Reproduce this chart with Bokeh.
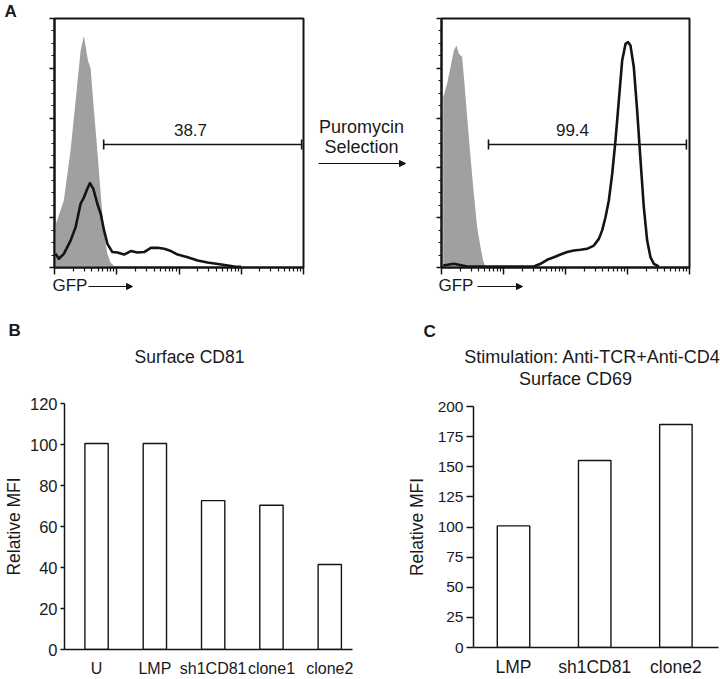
import math
from bokeh.plotting import figure
from bokeh.layouts import row, column
from bokeh.models import Range1d, FixedTicker, Label, Arrow, NormalHead, CustomJSTickFormatter, Spacer
from bokeh.embed import file_html
from bokeh.resources import INLINE

FONT = "Liberation Sans"
TXT = "#1a1a1a"
INK = "#141414"
GREY = "#a0a0a0"

# ---------------- Panel A data (log10 GFP intensity, % of max) ----------------
ctrl_before_log = [0.005, 0.15, 0.258, 0.339, 0.419, 0.473, 0.538, 0.58, 0.634, 0.688, 0.742, 0.796, 0.85, 0.90, 0.98]
ctrl_before_pct = [16.2, 26.9, 47.0, 67.0, 87.0, 93.0, 83.0, 80.0, 63.0, 47.0, 29.6, 13.5, 5.5, 2.0, 0.0]

gfp_before_log = [0.016, 0.07, 0.15, 0.258, 0.339, 0.419, 0.473, 0.527, 0.57, 0.624, 0.688, 0.742, 0.796, 0.85,
                  0.93, 1.01, 1.118, 1.226, 1.333, 1.44, 1.548, 1.656, 1.763, 1.871, 1.978, 2.14, 2.30, 2.46,
                  2.68, 2.89, 3.0]
gfp_before_pct = [5.5, 3.5, 5.5, 10.8, 16.2, 25.6, 28.2, 31.6, 33.9, 31.6, 25.6, 21.6, 14.9, 9.5,
                  6.2, 6.0, 5.2, 6.6, 6.0, 6.2, 7.9, 7.9, 7.5, 6.6, 5.2, 4.1, 2.8, 2.0,
                  1.2, 0.4, 0.3]

ctrl_after_log = [0.027, 0.091, 0.145, 0.199, 0.242, 0.28, 0.333, 0.371, 0.414, 0.468, 0.522, 0.575, 0.629, 0.672, 0.71]
ctrl_after_pct = [68.4, 73.8, 80.4, 87.1, 89.2, 85.8, 84.5, 73.8, 60.4, 44.3, 29.6, 16.2, 8.2, 2.8, 0.0]

gfp_after_log = [0.027, 0.199, 0.414, 0.95, 1.489, 1.597, 1.704, 1.812, 1.919, 2.027, 2.134, 2.242, 2.349,
                 2.457, 2.538, 2.591, 2.645, 2.699, 2.753, 2.806, 2.86, 2.914, 2.968, 3.011, 3.048, 3.102,
                 3.156, 3.21, 3.263, 3.317, 3.371, 3.425, 3.505]
gfp_after_pct = [0.8, 1.5, 0.4, 0.4, 0.4, 1.5, 3.1, 4.1, 5.2, 6.2, 6.8, 7.1, 7.5,
                 8.8, 11.5, 14.9, 20.2, 26.9, 37.6, 51.0, 67.0, 83.1, 89.8, 90.5, 89.2, 80.4,
                 63.0, 43.0, 24.2, 10.8, 4.1, 1.5, 0.4]

gate_before_log = [0.79, 3.97]
gate_after_log = [0.758, 3.95]
gate_pct_level = 49.4
gate_before_value = "38.7"
gate_after_value = "99.4"

# ---------------- Panel B / C data ----------------
cats_b = ["U", "LMP", "sh1CD81", "clone1", "clone2"]
vals_b = [100.5, 100.5, 72.6, 70.4, 41.5]
ticks_b = [0, 20, 40, 60, 80, 100, 120]

cats_c = ["LMP", "sh1CD81", "clone2"]
vals_c = [100.9, 155.2, 185.1]
ticks_c = [0, 25, 50, 75, 100, 125, 150, 175, 200]


def lin(px, p0, p1, v0, v1):
    return v0 + (px - p0) * (v1 - v0) / (p1 - p0)


def text_fig(w, h):
    f = figure(width=w, height=h, x_range=Range1d(0, w), y_range=Range1d(h, 0),
               x_axis_type=None, y_axis_type=None, output_backend="svg", toolbar_location=None,
               min_border_left=0, min_border_right=0, min_border_top=0, min_border_bottom=0,
               frame_align=False)
    f.outline_line_color = None
    f.background_fill_color = "white"
    f.border_fill_color = "white"
    return f


def put_text(f, x, y, text, size="17px", align="left", bold=False):
    # y is the vertical centre of the capitals
    f.add_layout(Label(x=x, y=y, text=text, text_align=align, text_baseline="alphabetic",
                       text_font=FONT, text_font_size=size, text_color=TXT,
                       text_font_style="bold" if bold else "normal"))


def put_arrow(f, x0, x1, y):
    f.add_layout(Arrow(x_start=x0, y_start=y, x_end=x1, y_end=y, line_color=INK, line_width=1.2,
                       end=NormalHead(size=6, fill_color=INK, line_color=INK, line_width=1)))


def hist_fig(width, mbl, mbr):
    p = figure(width=width, height=260, x_axis_type="log", x_range=Range1d(1, 1e4),
               y_range=Range1d(0, 100), output_backend="svg", toolbar_location=None,
               min_border_left=mbl, min_border_right=mbr, min_border_top=1, min_border_bottom=10,
               frame_align=False)
    p.grid.visible = False
    p.outline_line_color = INK
    p.outline_line_width = 2
    p.background_fill_color = "white"
    p.border_fill_color = "white"
    p.xaxis.ticker = FixedTicker(ticks=[1, 10, 100, 1000, 10000],
                                 minor_ticks=[m * 10 ** e for e in range(4) for m in range(2, 10)])
    p.yaxis.ticker = FixedTicker(ticks=[0, 20, 40, 60, 80, 100],
                                 minor_ticks=[v for v in range(0, 101, 5) if v % 20])
    for ax in (p.xaxis[0], p.yaxis[0]):
        ax.formatter = CustomJSTickFormatter(code="return ''")
        ax.major_label_text_font_size = "0px"
        ax.axis_line_width = 2
        ax.axis_line_color = INK
        ax.major_tick_line_color = INK
        ax.minor_tick_line_color = INK
        ax.major_tick_line_width = 1.5
        ax.minor_tick_line_width = 1.2
        ax.major_tick_in = 0
        ax.minor_tick_in = 0
        ax.major_label_standoff = 0
    p.xaxis.major_tick_out = 7
    p.xaxis.minor_tick_out = 4
    p.yaxis.major_tick_out = 5
    p.yaxis.minor_tick_out = 3
    return p


def draw_hist(p, ctrl_log, ctrl_pct, gfp_log, gfp_pct, gate_log, gate_txt, txt_log):
    p.varea(x=[10 ** d for d in ctrl_log], y1=[0] * len(ctrl_log), y2=ctrl_pct, fill_color=GREY)
    p.line(x=[10 ** d for d in gfp_log], y=gfp_pct, line_color=INK, line_width=2.6, line_join="round")
    gx = [10 ** d for d in gate_log]
    p.line(x=gx, y=[gate_pct_level] * 2, line_color=INK, line_width=1.4)
    p.scatter(x=gx, y=[gate_pct_level] * 2, marker="dash", angle=math.pi / 2, size=10,
              line_color=INK, line_width=1.6)
    p.add_layout(Label(x=10 ** txt_log, y=lin(129, 267, 18, 0, 100), text=gate_txt,
                       text_align="center", text_baseline="alphabetic", text_font=FONT,
                       text_font_size="17px", text_color=TXT))


# ================= Row 1 (y 0..300) =================
# panel letter column: x 0..22
letterA = text_fig(22, 300)
put_text(letterA, 4, 11, "A", size="17px", bold=True)

# left histogram column: x 22..310
a1 = hist_fig(288, 32, 7)
draw_hist(a1, ctrl_before_log, ctrl_before_pct, gfp_before_log, gfp_before_pct,
          gate_before_log, gate_before_value, lin(190, 54, 303, 0, 4))
gfp1 = text_fig(288, 23)
put_text(gfp1, 30, 8, "GFP")
put_arrow(gfp1, 66, 110, 9)
col1 = column(Spacer(width=288, height=17), a1, gfp1)

# middle: x 310..420
mid = text_fig(110, 300)
put_text(mid, 51, 126.5, "Puromycin", size="18px", align="center")
put_text(mid, 51, 146.5, "Selection", size="18px", align="center")
put_arrow(mid, 8, 95, 163)

# right column: x 420..724
a2 = hist_fig(304, 21, 35)
draw_hist(a2, ctrl_after_log, ctrl_after_pct, gfp_after_log, gfp_after_pct,
          gate_after_log, gate_after_value, lin(572, 441, 689, 0, 4))
gfp2 = text_fig(304, 23)
put_text(gfp2, 18, 8, "GFP")
put_arrow(gfp2, 57, 102, 9)
col3 = column(Spacer(width=304, height=17), a2, gfp2)

row1 = row(letterA, col1, mid, col3)


def bar_fig(width, mbl, mbr, mbt, mbb, xr, yr, ticks, cats, tick_out, tick_size, cat_size,
            cat_standoff, label_standoff):
    p = figure(width=width, height=289, x_range=Range1d(*xr), y_range=Range1d(*yr),
               output_backend="svg", toolbar_location=None,
               min_border_left=mbl, min_border_right=mbr, min_border_top=mbt, min_border_bottom=mbb,
               frame_align=False)
    p.grid.visible = False
    p.outline_line_color = None
    p.background_fill_color = "white"
    p.border_fill_color = "white"
    p.yaxis.ticker = FixedTicker(ticks=ticks)
    p.xaxis.ticker = FixedTicker(ticks=list(range(len(cats))))
    p.xaxis.major_label_overrides = {i: c for i, c in enumerate(cats)}
    for ax in (p.xaxis[0], p.yaxis[0]):
        ax.axis_line_width = 1.5
        ax.axis_line_color = INK
        ax.major_tick_line_color = INK
        ax.major_tick_line_width = 1.5
        ax.major_tick_in = 0
        ax.minor_tick_in = 0
        ax.minor_tick_out = 0
        ax.major_label_text_font = FONT
        ax.major_label_text_color = TXT
    p.xaxis.major_tick_out = 0
    p.xaxis.major_label_standoff = cat_standoff
    p.xaxis.major_label_text_font_size = cat_size
    p.yaxis.major_tick_out = tick_out
    p.yaxis.major_label_standoff = 3
    p.yaxis.major_label_text_font_size = tick_size
    p.yaxis.axis_label = "Relative MFI"
    p.yaxis.axis_label_text_font = FONT
    p.yaxis.axis_label_text_font_style = "normal"
    p.yaxis.axis_label_text_font_size = "17.5px"
    p.yaxis.axis_label_text_color = TXT
    p.yaxis.axis_label_standoff = label_standoff
    return p


# ================= Row 2 (y 300..679) =================
# B: x 0..360
stripB = text_fig(360, 90)
put_text(stripB, 8, 30, "B", size="17px", bold=True)
put_text(stripB, 189, 56.5, "Surface CD81", size="17.5px", align="center")
b = bar_fig(360, 60, 8, 13, 29, (-0.55, 4.39), (0, 120), ticks_b, cats_b, 4, "16.5px", "16px", 10, 3)
b.vbar(x=list(range(len(cats_b))), top=vals_b, bottom=0, width=0.4,
       fill_color="white", line_color=INK, line_width=1.4)
colB = column(stripB, b)

# C: x 360..724
stripC = text_fig(364, 90)
put_text(stripC, 63, 31, "C", size="17px", bold=True)
put_text(stripC, 232, 56.5, "Stimulation: Anti-TCR+Anti-CD4", size="18px", align="center")
put_text(stripC, 215, 78.5, "Surface CD69", size="18px", align="center")
c = bar_fig(364, 113, 6, 16, 28, (-0.493, 2.525), (0, 200), ticks_c, cats_c, 7, "15.5px", "17.5px", 9, 8)
c.vbar(x=list(range(len(cats_c))), top=vals_c, bottom=0, width=0.4,
       fill_color="white", line_color=INK, line_width=1.4)
colC = column(stripC, c)

row2 = row(colB, colC)

layout = column(row1, row2)
open("out.html", "w").write(file_html(layout, INLINE, title="CD81 knockdown"))
